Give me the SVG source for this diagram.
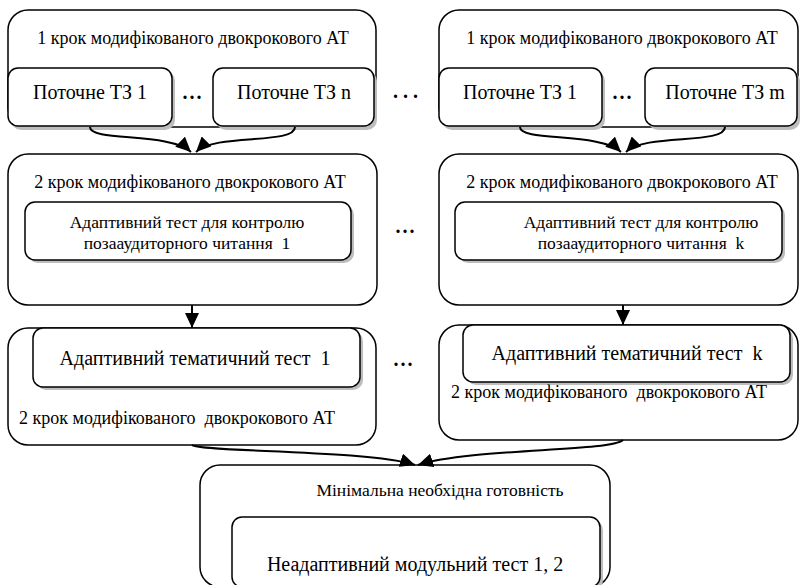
<svg xmlns="http://www.w3.org/2000/svg" width="802" height="585" viewBox="0 0 802 585">
<style>
.outer{fill:#fff;stroke:#000;stroke-width:1.5}
.inner{fill:#fff;stroke:#000;stroke-width:1.5}
.shadow{fill:#bdbdbd;stroke:none}
.t{fill:#000;text-anchor:middle}
.s17{font-size:17.5px}
.s18{font-size:18px}
.s20{font-size:20px}
.dots{font-weight:bold;font-size:20px;letter-spacing:2px;text-anchor:middle}
.dotsw{font-weight:bold;font-size:20px;letter-spacing:5px;text-anchor:middle}
.conn{fill:none;stroke:#000;stroke-width:2}
</style>
<defs>
<marker id="ah" markerUnits="userSpaceOnUse" markerWidth="16" markerHeight="14" refX="15" refY="7" orient="auto">
<path d="M0,0 L15,7 L0,14 Z" fill="#000"/>
</marker>
</defs>
<g font-family="'Liberation Serif', 'Times New Roman', serif">
<g id="step1-left">
<rect class="outer" x="8" y="10" width="368" height="117" rx="20"/>
<rect class="shadow" x="11" y="71" width="164" height="59" rx="10"/>
<rect class="inner" x="8" y="68" width="164" height="58" rx="10"/>
<rect class="shadow" x="216" y="71" width="161" height="59" rx="10"/>
<rect class="inner" x="213" y="68" width="161" height="58" rx="10"/>
<text class="t s18" x="193" y="44">1 крок модифікованого двокрокового АТ</text>
<text class="t s20" x="90" y="99">Поточне ТЗ 1</text>
<text class="t s20" x="294" y="99">Поточне ТЗ n</text>
<text class="dots" x="193" y="99">...</text>
</g>

<g id="step1-right">
<rect class="outer" x="439" y="10" width="359" height="117" rx="20"/>
<rect class="shadow" x="442" y="71" width="163" height="59" rx="10"/>
<rect class="inner" x="439" y="68" width="163" height="58" rx="10"/>
<rect class="shadow" x="648" y="71" width="152" height="59" rx="10"/>
<rect class="inner" x="645" y="68" width="152" height="58" rx="10"/>
<text class="t s18" x="622" y="44">1 крок модифікованого двокрокового АТ</text>
<text class="t s20" x="520" y="99">Поточне ТЗ 1</text>
<text class="t s20" x="725" y="99">Поточне ТЗ m</text>
<text class="dots" x="623" y="99">...</text>
</g>

<text class="dotsw" x="408" y="98">...</text>

<g id="step2-left">
<rect class="outer" x="8" y="154" width="369" height="151" rx="20"/>
<rect class="shadow" x="28" y="205" width="326" height="58" rx="10"/>
<rect class="inner" x="25" y="202" width="326" height="58" rx="10"/>
<text class="t s18" x="190" y="188">2 крок модифікованого двокрокового АТ</text>
<text class="t s17" x="187" y="228">Адаптивний тест для контролю</text>
<text class="t s17" x="187" y="249" xml:space="preserve">позааудиторного читання  1</text>
</g>

<g id="step2-right">
<rect class="outer" x="439" y="154" width="359" height="151" rx="20"/>
<rect class="shadow" x="458" y="205" width="327" height="58" rx="10"/>
<rect class="inner" x="455" y="202" width="327" height="58" rx="10"/>
<text class="t s18" x="622" y="188">2 крок модифікованого двокрокового АТ</text>
<text class="t s17" x="641" y="228">Адаптивний тест для контролю</text>
<text class="t s17" x="641" y="249" xml:space="preserve">позааудиторного читання  k</text>
</g>

<text class="dots" x="406" y="233">...</text>

<g id="thematic-left">
<rect class="outer" x="8" y="328" width="368" height="117" rx="20"/>
<rect class="shadow" x="36" y="331" width="327" height="59" rx="10"/>
<rect class="inner" x="33" y="328" width="327" height="59" rx="10"/>
<text class="t s20" x="195" y="365" xml:space="preserve">Адаптивний тематичний тест  1</text>
<text class="t s18" x="177" y="424" xml:space="preserve">2 крок модифікованого  двокрокового АТ</text>
</g>

<g id="thematic-right">
<rect class="outer" x="439" y="325" width="359" height="115" rx="20"/>
<rect class="shadow" x="466" y="328" width="327" height="57" rx="10"/>
<rect class="inner" x="463" y="325" width="327" height="57" rx="10"/>
<text class="t s20" x="627" y="360" xml:space="preserve">Адаптивний тематичний тест  k</text>
<text class="t s18" x="609" y="398" xml:space="preserve">2 крок модифікованого  двокрокового АТ</text>
</g>

<text class="dots" x="404" y="366">...</text>

<g id="final">
<rect class="outer" x="200" y="465" width="410" height="122" rx="20"/>
<rect class="shadow" x="235" y="520" width="368" height="70" rx="10"/>
<rect class="inner" x="232" y="517" width="368" height="70" rx="10"/>
<text class="t s17" x="440" y="496">Мінімальна необхідна готовність</text>
<text class="t s20" x="415" y="571">Неадаптивний модульний тест 1, 2</text>
</g>
</g>
<g id="connectors">
<path class="conn" d="M90,127 C90,142 170,132 191,152" marker-end="url(#ah)"/>
<path class="conn" d="M295,127 C295,145 215,133 196,152" marker-end="url(#ah)"/>
<path class="conn" d="M520,127 C520,142 600,132 621,152" marker-end="url(#ah)"/>
<path class="conn" d="M725,127 C725,145 645,133 626,152" marker-end="url(#ah)"/>
<path class="conn" d="M192,305 L192,328" marker-end="url(#ah)"/>
<path class="conn" d="M623,305 L623,325" marker-end="url(#ah)"/>
<path class="conn" d="M192,445 C200,452 370,450 415,465" marker-end="url(#ah)"/>
<path class="conn" d="M623,440 C610,452 470,448 418,465" marker-end="url(#ah)"/>
</g>
</svg>
